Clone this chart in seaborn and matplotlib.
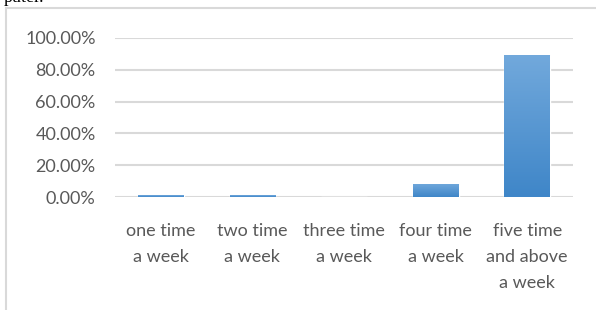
import numpy as np
import pandas as pd
import matplotlib
matplotlib.use("Agg")
import matplotlib.pyplot as plt
import seaborn as sns
from matplotlib.patches import Rectangle
from matplotlib.colors import LinearSegmentedColormap

categories = ["one time\na week", "two time\na week", "three time\na week",
              "four time\na week", "five time\nand above\na week"]
values = [1.1, 1.1, 0.0, 8.4, 89.4]
yticks = [0, 20, 40, 60, 80, 100]
ytick_labels = ["0.00%", "20.00%", "40.00%", "60.00%", "80.00%", "100.00%"]

sns.set_theme(style="white")
plt.rcParams['font.family'] = ['Lato', 'DejaVu Sans']

W, H = 596, 310
fig = plt.figure(figsize=(W / 100, H / 100), dpi=100)
ax = fig.add_axes([115 / W, 113 / H, (573 - 115) / W, 159 / H])

df = pd.DataFrame({"cat": categories, "val": values})
sns.barplot(data=df, x="cat", y="val", ax=ax, color="#5b9bd5", width=0.5,
            saturation=1, zorder=3)

ax.set_ylim(0, 100)
ax.set_xlim(-0.5, len(categories) - 0.5)
ax.set_yticks(yticks)
ax.set_yticklabels(ytick_labels)
ax.set_xlabel("")
ax.set_ylabel("")
for s in ax.spines.values():
    s.set_visible(False)
ax.yaxis.grid(True, color="#d9d9d9", linewidth=1.5, zorder=0)
ax.set_axisbelow(True)
ax.tick_params(axis="y", length=0, pad=14, labelsize=13, labelcolor="#595959")
ax.tick_params(axis="x", length=0, pad=19, labelsize=13, labelcolor="#595959")
for lbl in ax.get_xticklabels():
    lbl.set_linespacing(1.75)
    lbl.set_ha("center")

# gradient fill clipped to each bar
cmap = LinearSegmentedColormap.from_list("g", ["#3f86c8", "#72a9dc"])
grad = np.linspace(0, 1, 256).reshape(-1, 1)
for p in ax.patches:
    x0, y0 = p.get_x(), p.get_y()
    w, h = p.get_width(), p.get_height()
    if h <= 0:
        continue
    im = ax.imshow(grad, cmap=cmap, origin="lower", aspect="auto",
                   extent=[x0, x0 + w, y0, y0 + h], zorder=4)
    im.set_clip_path(p)
ax.set_xlim(-0.5, len(categories) - 0.5)
ax.set_ylim(0, 100)

# outer chart border
fig.patches.append(Rectangle((6 / W, -0.1), 1.2, (H - 8) / H + 0.1,
                             transform=fig.transFigure, fill=False,
                             edgecolor="#d9d9d9", linewidth=1.5))

# cut-off text from the page above
fig.text(4 / W, 1 - 1.5 / H, "puter.", family="Liberation Serif", fontsize=13,
         va="baseline", ha="left", color="black")

fig.savefig("out.png", dpi=100)
